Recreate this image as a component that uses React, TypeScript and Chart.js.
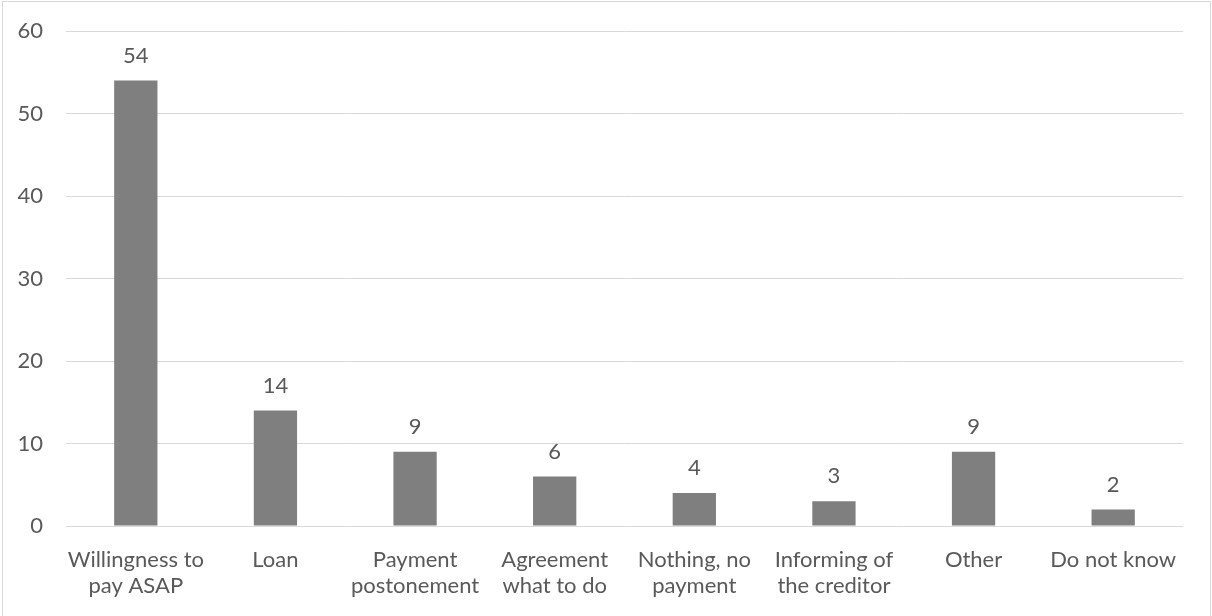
import React, { useEffect, useRef } from "react";
import { Chart, registerables } from "chart.js";

Chart.register(...registerables);

const categories: string[][] = [
  ["Willingness to", "pay ASAP"],
  ["Loan"],
  ["Payment", "postonement"],
  ["Agreement", "what to do"],
  ["Nothing, no", "payment"],
  ["Informing of", "the creditor"],
  ["Other"],
  ["Do not know"],
];
const responses: number[] = [54, 14, 9, 6, 4, 3, 9, 2];
const yTicks: number[] = [0, 10, 20, 30, 40, 50, 60];

const TEXT = "#595959";
const GRID = "#d9d9d9";
const BAR = "#7f7f7f";
const FONT = "Lato, 'Open Sans', sans-serif";

// Writes each bar's value centred above it.
const valueLabels = {
  id: "valueLabels",
  afterDatasetsDraw(chart: any) {
    const ctx = chart.ctx;
    const meta = chart.getDatasetMeta(0);
    const data = chart.data.datasets[0].data as number[];
    ctx.save();
    ctx.fillStyle = TEXT;
    ctx.font = `22px ${FONT}`;
    ctx.textAlign = "center";
    ctx.textBaseline = "middle";
    meta.data.forEach((bar: any, i: number) => {
      ctx.fillText(String(data[i]), bar.x, bar.y - 25);
    });
    ctx.restore();
  },
};

export default function App() {
  const canvasRef = useRef<HTMLCanvasElement | null>(null);

  useEffect(() => {
    if (!canvasRef.current) return;
    const chart = new Chart(canvasRef.current, {
      type: "bar",
      data: {
        labels: categories,
        datasets: [
          {
            data: responses,
            backgroundColor: BAR,
            borderWidth: 0,
            barPercentage: 0.31,
            categoryPercentage: 1,
          },
        ],
      },
      options: {
        animation: false,
        responsive: false,
        devicePixelRatio: 1,
        layout: { padding: { top: 31, right: 29, bottom: 0, left: 0 } },
        plugins: {
          legend: { display: false },
          tooltip: { enabled: false },
        },
        scales: {
          x: {
            grid: { display: false },
            border: { display: false },
            ticks: {
              color: TEXT,
              font: { family: FONT, size: 22, lineHeight: 1.18 },
              padding: 13,
              maxRotation: 0,
              autoSkip: false,
            },
            afterFit: (scale: any) => {
              scale.height = 90;
            },
          },
          y: {
            min: 0,
            max: 60,
            afterBuildTicks: (scale: any) => {
              scale.ticks = yTicks.map((v) => ({ value: v }));
            },
            grid: { color: GRID, lineWidth: 1, drawTicks: false },
            border: { display: false },
            ticks: {
              color: TEXT,
              font: { family: FONT, size: 22 },
              padding: 23,
            },
            afterFit: (scale: any) => {
              scale.width = 66;
              scale.paddingTop = 0;
              scale.paddingBottom = 0;
            },
          },
        },
      },
      plugins: [valueLabels],
    });
    return () => chart.destroy();
  }, []);

  return (
    <div
      style={{
        position: "fixed",
        left: 0,
        top: 0,
        width: 1212,
        height: 616,
        background: "#ffffff",
        overflow: "hidden",
      }}
    >
      <canvas ref={canvasRef} width={1212} height={616} style={{ position: "absolute", left: 0, top: 0 }} />
      <div
        style={{
          position: "absolute",
          left: 2,
          top: 1,
          width: 1209,
          height: 620,
          border: `1px solid ${GRID}`,
          boxSizing: "border-box",
          pointerEvents: "none",
        }}
      />
    </div>
  );
}
